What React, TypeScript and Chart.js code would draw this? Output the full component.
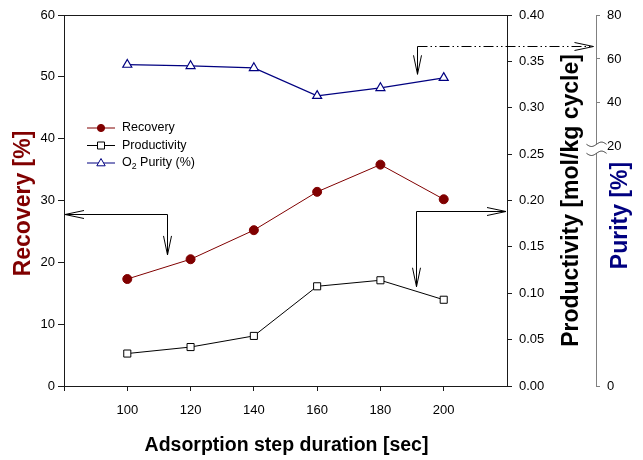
import React, { useEffect, useRef } from 'react';
import { Chart, registerables } from 'chart.js';

Chart.register(...registerables);

// ---- data ----
const durations = [100, 120, 140, 160, 180, 200];
const recovery = [17.3, 20.5, 25.2, 31.4, 35.8, 30.2];
const productivity = [0.035, 0.042, 0.054, 0.1075, 0.114, 0.093];
const purity = [57.4, 56.8, 55.9, 43.2, 46.8, 51.4];

const durationTicks = [80, 100, 120, 140, 160, 180, 200, 220];
const purityTicks = [20, 40, 60, 80];
const PURITY_AXIS_MIN = -88.9; // bottom of broken purity axis, labelled "0"

const seriesNames = ['Recovery', 'Productivity', 'O\u2082 Purity (%)'];
const xTitle = 'Adsorption step duration [sec]';
const recoveryTitle = 'Recovery [%]';
const productivityTitle = 'Productivity [mol/kg cycle]';
const purityTitle = 'Purity [%]';

// annotation arrows (data coordinates)
const arrowNotes = [
  { axis: 'y', x: 112.5, y: 27.8, yEnd: 21.2, to: 'left', dashed: false },
  { axis: 'y2', x: 191.2, y: 0.189, yEnd: 0.107, to: 'right', dashed: false },
  { axis: 'y3', x: 191.7, y: 65.8, yEnd: 53, to: 'purity', dashed: true },
];

const RED = '#800000';
const NAVY = '#000080';
const AXIS = '#1a1a1a';
const GRAY = '#808080';
const FONT = '"Liberation Sans", Arial, sans-serif';

function arrowHead(ctx: CanvasRenderingContext2D, tx: number, ty: number, dir: string) {
  const L = 19, W = 4;
  ctx.beginPath();
  if (dir === 'down') {
    ctx.moveTo(tx - W, ty - L); ctx.lineTo(tx, ty); ctx.lineTo(tx + W, ty - L);
  } else if (dir === 'left') {
    ctx.moveTo(tx + L, ty - W); ctx.lineTo(tx, ty); ctx.lineTo(tx + L, ty + W);
  } else {
    ctx.moveTo(tx - L, ty - W); ctx.lineTo(tx, ty); ctx.lineTo(tx - L, ty + W);
  }
  ctx.stroke();
}

function vText(ctx: CanvasRenderingContext2D, text: string, x: number, y: number, font: string, color: string) {
  ctx.save();
  ctx.translate(x, y);
  ctx.rotate(-Math.PI / 2);
  ctx.font = font;
  ctx.fillStyle = color;
  ctx.textAlign = 'center';
  ctx.textBaseline = 'alphabetic';
  ctx.fillText(text, 0, 0);
  ctx.restore();
}

function subText(ctx: CanvasRenderingContext2D, text: string, x: number, y: number, size: number) {
  ctx.textAlign = 'left';
  ctx.textBaseline = 'middle';
  let cx = x;
  for (const ch of text) {
    if (ch === '\u2082') {
      ctx.font = `${size * 0.7}px ${FONT}`;
      ctx.fillText('2', cx, y + 4);
      cx += ctx.measureText('2').width;
    } else {
      ctx.font = `${size}px ${FONT}`;
      ctx.fillText(ch, cx, y);
      cx += ctx.measureText(ch).width;
    }
  }
}

const overlay = {
  id: 'overlay',
  afterDraw(chart: any) {
    const { ctx, chartArea: ca, scales } = chart;
    const xS = scales.x, y3S = scales.y3;
    ctx.save();

    // top frame line
    ctx.strokeStyle = AXIS;
    ctx.lineWidth = 1;
    ctx.beginPath();
    ctx.moveTo(ca.left, Math.round(ca.top) + 0.5);
    ctx.lineTo(ca.right, Math.round(ca.top) + 0.5);
    ctx.stroke();

    // broken purity axis
    const ax = Math.round(y3S.left) + 0.5;
    const p20 = y3S.getPixelForValue(20);
    const upper = p20 - 2.5, lower = p20 + 6.5;
    ctx.strokeStyle = GRAY;
    ctx.beginPath();
    ctx.moveTo(ax, ca.top); ctx.lineTo(ax, upper);
    ctx.moveTo(ax, lower); ctx.lineTo(ax, ca.bottom);
    ctx.stroke();
    ctx.strokeStyle = '#333';
    for (const c of [upper, lower]) {
      ctx.beginPath();
      for (let i = 0; i <= 20; i++) {
        const t = i / 20;
        const px = ax - 10 + 20 * t;
        const py = c + 2.2 * Math.sin(2 * Math.PI * t);
        if (i === 0) ctx.moveTo(px, py); else ctx.lineTo(px, py);
      }
      ctx.stroke();
    }

    // arrows
    ctx.strokeStyle = '#000';
    ctx.lineWidth = 1;
    for (const a of arrowNotes) {
      const s = scales[a.axis];
      const px = Math.round(xS.getPixelForValue(a.x)) + 0.5;
      const py = Math.round(s.getPixelForValue(a.y)) + 0.5;
      const pe = s.getPixelForValue(a.yEnd);
      const endX = a.to === 'left' ? ca.left + 1 : a.to === 'right' ? ca.right - 1 : ax - 3;
      ctx.beginPath();
      if (a.dashed) ctx.setLineDash([10, 3, 1.5, 3, 1.5, 3]);
      ctx.moveTo(px, py); ctx.lineTo(endX, py);
      ctx.stroke();
      ctx.setLineDash([]);
      ctx.beginPath();
      ctx.moveTo(px, py); ctx.lineTo(px, pe);
      ctx.stroke();
      arrowHead(ctx, px, pe, 'down');
      arrowHead(ctx, endX, py, a.to === 'left' ? 'left' : 'right');
    }

    // legend
    const lx = ca.left + 23, ly = ca.top + 113, step = 17.5;
    const styles = [
      { color: RED, marker: 'circle', fill: RED },
      { color: '#000', marker: 'rect', fill: '#fff' },
      { color: NAVY, marker: 'triangle', fill: '#fff' },
    ];
    styles.forEach((st, i) => {
      const y = ly + i * step;
      ctx.strokeStyle = st.color;
      ctx.lineWidth = 1;
      ctx.beginPath();
      ctx.moveTo(lx, y); ctx.lineTo(lx + 28, y);
      ctx.stroke();
      const mx = lx + 14;
      ctx.fillStyle = st.fill;
      ctx.beginPath();
      if (st.marker === 'circle') ctx.arc(mx, y, 3.6, 0, Math.PI * 2);
      else if (st.marker === 'rect') ctx.rect(mx - 3.5, y - 3.5, 7, 7);
      else { ctx.moveTo(mx, y - 4.5); ctx.lineTo(mx + 4.2, y + 2.8); ctx.lineTo(mx - 4.2, y + 2.8); ctx.closePath(); }
      ctx.fill();
      ctx.stroke();
      ctx.fillStyle = '#000';
      subText(ctx, seriesNames[i], lx + 35, y, 12.5);
    });

    // axis titles
    const midY = (ca.top + ca.bottom) / 2;
    vText(ctx, recoveryTitle, ca.left - 34.5, midY + 3, `bold 23px ${FONT}`, RED);
    vText(ctx, productivityTitle, ca.right + 71, midY, `bold 23px ${FONT}`, '#000');
    vText(ctx, purityTitle, y3S.left + 30.5, midY + 15, `bold 23px ${FONT}`, NAVY);
    ctx.font = `bold 19.5px ${FONT}`;
    ctx.fillStyle = '#000';
    ctx.textAlign = 'center';
    ctx.textBaseline = 'alphabetic';
    ctx.fillText(xTitle, (ca.left + ca.right) / 2 + 1, ca.bottom + 65);

    ctx.restore();
  },
};

export default function App() {
  const ref = useRef<HTMLCanvasElement>(null);
  useEffect(() => {
    Chart.defaults.font.family = FONT;
    const tickFont = { size: 13, family: FONT };
    const chart = new Chart(ref.current as HTMLCanvasElement, {
      type: 'line',
      data: {
        datasets: [
          {
            label: seriesNames[0],
            data: durations.map((x, i) => ({ x, y: recovery[i] })),
            yAxisID: 'y',
            borderColor: RED,
            backgroundColor: RED,
            borderWidth: 1,
            pointStyle: 'circle',
            pointRadius: 4.5,
            pointBackgroundColor: RED,
            pointBorderColor: RED,
          },
          {
            label: seriesNames[1],
            data: durations.map((x, i) => ({ x, y: productivity[i] })),
            yAxisID: 'y2',
            borderColor: '#000',
            backgroundColor: '#fff',
            borderWidth: 1,
            pointStyle: 'rect',
            pointRadius: 5,
            pointBackgroundColor: '#fff',
            pointBorderColor: '#000',
            pointBorderWidth: 1,
          },
          {
            label: seriesNames[2],
            data: durations.map((x, i) => ({ x, y: purity[i] })),
            yAxisID: 'y3',
            borderColor: NAVY,
            backgroundColor: '#fff',
            borderWidth: 1.2,
            pointStyle: 'triangle',
            pointRadius: 5.2,
            pointBackgroundColor: '#fff',
            pointBorderColor: NAVY,
            pointBorderWidth: 1.2,
          },
        ],
      },
      options: {
        responsive: false,
        animation: false,
        layout: { padding: { top: 15, left: 0, right: 0, bottom: 0 } },
        plugins: { legend: { display: false }, tooltip: { enabled: false } },
        scales: {
          x: {
            type: 'linear',
            min: 80,
            max: 220,
            afterBuildTicks: (s: any) => { s.ticks = durationTicks.map((v) => ({ value: v })); },
            ticks: {
              callback: (v: any) => (durations.includes(Number(v)) ? String(v) : ''),
              font: tickFont,
              color: '#000',
              padding: 12,
              maxRotation: 0,
              autoSkip: false,
            },
            grid: {
              drawOnChartArea: false,
              tickLength: 5,
              tickColor: (c: any) => (c.tick && c.tick.value === 220 ? 'rgba(0,0,0,0)' : AXIS),
            },
            border: { color: AXIS },
            afterFit: (s: any) => { s.height = 74; },
          },
          y: {
            type: 'linear',
            position: 'left',
            min: 0,
            max: 60,
            ticks: { stepSize: 10, font: tickFont, color: '#000', padding: 3 },
            grid: { drawOnChartArea: false, tickLength: 6, tickColor: AXIS },
            border: { color: AXIS },
            afterFit: (s: any) => { s.width = 64; },
          },
          y2: {
            type: 'linear',
            position: 'right',
            weight: 1,
            min: 0,
            max: 0.4,
            ticks: {
              stepSize: 0.05,
              font: tickFont,
              color: '#000',
              padding: 7,
              callback: (v: any) => Number(v).toFixed(2),
            },
            grid: { drawOnChartArea: false, tickLength: 5, tickColor: AXIS },
            border: { color: AXIS },
            afterFit: (s: any) => { s.width = 89; },
          },
          y3: {
            type: 'linear',
            position: 'right',
            weight: 2,
            min: PURITY_AXIS_MIN,
            max: 80,
            afterBuildTicks: (s: any) => {
              s.ticks = [PURITY_AXIS_MIN, ...purityTicks].map((v) => ({ value: v }));
            },
            ticks: {
              font: tickFont,
              color: '#000',
              padding: 7,
              autoSkip: false,
              callback: (v: any) => (Number(v) < 20 ? '0' : String(v)),
            },
            grid: {
              drawOnChartArea: false,
              tickLength: 4,
              tickColor: (c: any) => (c.tick && c.tick.value === 20 ? 'rgba(0,0,0,0)' : GRAY),
            },
            border: { display: false },
            afterFit: (s: any) => { s.width = 47; },
          },
        },
      } as any,
      plugins: [overlay],
    });
    return () => chart.destroy();
  }, []);
  return (
    <div style={{ position: 'absolute', left: 0, top: 0, width: 643, height: 460, background: '#fff' }}>
      <canvas ref={ref} width={643} height={460} style={{ display: 'block' }} />
    </div>
  );
}
